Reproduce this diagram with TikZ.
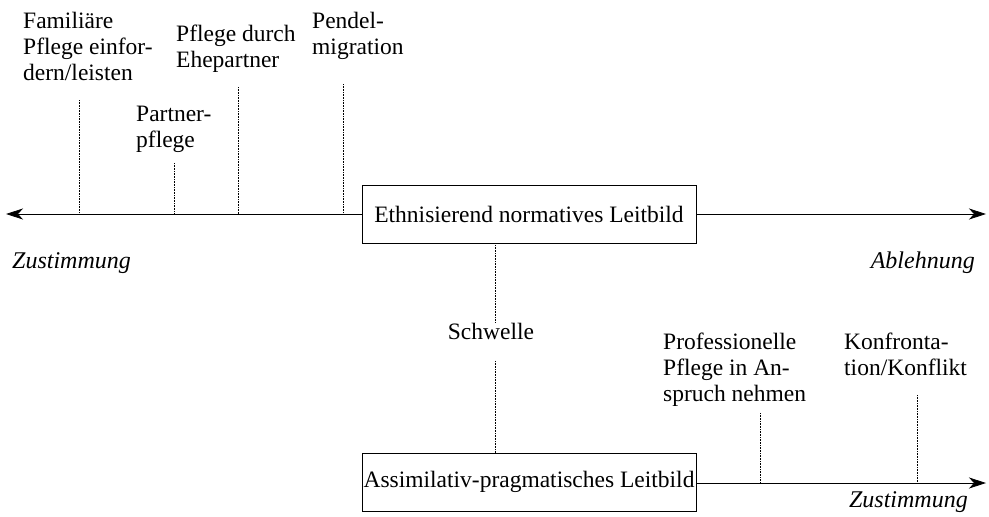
\documentclass[tikz,border=0pt]{standalone}
\usepackage{fontspec}
\setmainfont{Liberation Serif}
\usetikzlibrary{arrows.meta}
\usetikzlibrary{calc}

\begin{document}
\begin{tikzpicture}[x=1pt,y=-1pt,
    font=\fontsize{23.5}{26}\selectfont,
    leitbild/.style={draw, line width=0.9pt, minimum width=334pt, minimum height=58pt, inner sep=0pt},
    haltung/.style={anchor=base west, align=left, inner sep=0pt},
    pol/.style={inner sep=0pt, font=\fontsize{24}{26}\selectfont\itshape},
    achse/.style={line width=0.8pt, -{Stealth[length=17pt,width=11pt,inset=5pt]}},
    stufe/.style={densely dotted, line width=0.6pt}]

  \useasboundingbox (0,0) rectangle (989,517);

  % Leitbilder
  \node[leitbild] (ethn) at (529,214) {Ethnisierend normatives Leitbild};
  \node[leitbild] (assim) at (529,482) {Assimilativ-pragmatisches Leitbild};

  % Axis
  \coordinate (links) at (6,214);
  \coordinate (rechts) at (986,214);
  \coordinate (unten) at (986,483);
  \draw[achse] (ethn.west) -- (links);
  \draw[achse] (ethn.east) -- (rechts);
  \draw[achse] (assim.east |- unten) -- (unten);

  \node[pol, anchor=base west] (zustoben) at (12,268) {Zustimmung};
  \node[pol, anchor=base east] (ablehnung) at (975,268) {Ablehnung};
  \node[pol, anchor=base east] (zustunten) at (968,507) {Zustimmung};

  % Haltungen (Anker: Grundlinie der letzten Zeile)
  \node[haltung] (familie) at (23,80) {Familiäre\\Pflege einfor-\\dern/leisten};
  \node[haltung] (partner) at (136,147) {Partner-\\pflege};
  \node[haltung] (ehe) at (176,67) {Pflege durch\\Ehepartner};
  \node[haltung] (pendel) at (312,54) {Pendel-\\migration};
  \node[haltung] (prof) at (663,401) {Professionelle\\Pflege in An-\\spruch nehmen};
  \node[haltung] (konf) at (844,375) {Konfronta-\\tion/Konflikt};

  % Stufen
  \foreach \n/\x/\y in {fam/79/100, par/174/163, ehp/238/87, pen/343/84}
  {
    \coordinate (\n) at (\x,\y);
    \draw[stufe] (\n) -- (\n |- links);
  }
  \foreach \n/\x/\y in {pro/760/413, kon/917/395}
  {
    \coordinate (\n) at (\x,\y);
    \draw[stufe] (\n) -- (\n |- unten);
  }

  % Schwelle
  \node[anchor=base, inner sep=0pt] (schwelle) at (491,339) {Schwelle};
  \coordinate (soben) at (495,322);
  \coordinate (sunten) at (495,361);
  \draw[stufe] (soben |- ethn.south) -- (soben);
  \draw[stufe] (sunten) -- (sunten |- assim.north);

\end{tikzpicture}
\end{document}
